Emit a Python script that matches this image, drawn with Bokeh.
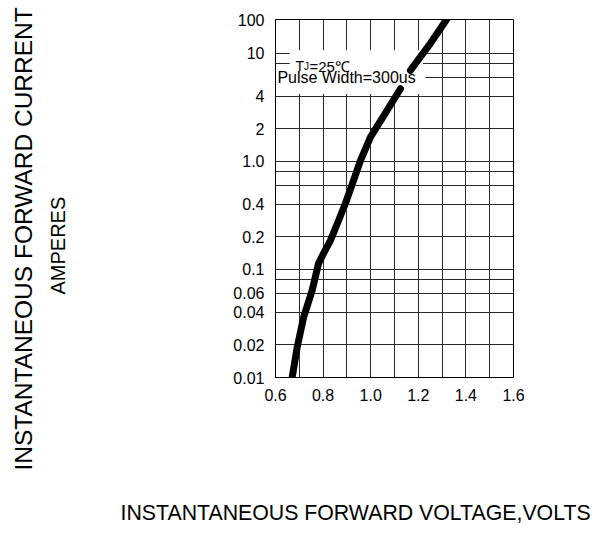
from bokeh.plotting import figure
from bokeh.models import FixedTicker, Range1d, Label, BoxAnnotation, Title
from bokeh.embed import file_html
from bokeh.resources import INLINE

# ---- data ----
volts_lo = [0.670, 0.691, 0.718, 0.754, 0.781, 0.802, 0.831, 0.865, 0.894, 0.928,
            0.957, 0.999, 1.069, 1.125]
amps_lo = [0.010, 0.019, 0.036, 0.064, 0.114, 0.141, 0.186, 0.284, 0.41, 0.667,
           1.02, 1.68, 2.97, 4.71]
volts_hi = [1.167, 1.251, 1.318]
amps_hi = [6.97, 12.4, 20.5]

x_tick_values = [0.6, 0.8, 1.0, 1.2, 1.4, 1.6]
x_tick_labels = ["0.6", "0.8", "1.0", "1.2", "1.4", "1.6"]
x_grid_values = [0.7, 0.8, 0.9, 1.0, 1.1, 1.2, 1.3, 1.4, 1.5]

y_tick_values = [0.01, 0.02, 0.04, 0.06, 0.1, 0.2, 0.4, 1.0, 2.0, 4.0, 10.0, 20.6]
y_tick_labels = ["0.01", "0.02", "0.04", "0.06", "0.1", "0.2", "0.4", "1.0", "2", "4", "10", "100"]
y_grid_values = [0.02, 0.04, 0.06, 0.08, 0.1, 0.2, 0.4, 0.6, 0.8, 1.0, 2.0, 4.0, 6.0, 8.0, 10.0]

FONT = "Liberation Sans"

p = figure(frame_width=238, frame_height=358,
           min_border_left=275, min_border_right=81, min_border_top=19, min_border_bottom=156,
           x_range=Range1d(0.6, 1.6), y_range=Range1d(0.01, 20.6), y_axis_type="log",
           output_backend="svg", toolbar_location=None)

p.outline_line_color = "black"
p.outline_line_width = 1
p.background_fill_color = "white"
p.border_fill_color = "white"

p.xgrid.ticker = FixedTicker(ticks=x_grid_values)
p.ygrid.ticker = FixedTicker(ticks=y_grid_values)
for g in (p.xgrid, p.ygrid):
    g.grid_line_color = "#2a2a2a"
    g.grid_line_width = 1
    g.grid_line_alpha = 1

p.xaxis.ticker = FixedTicker(ticks=x_tick_values)
p.xaxis.major_label_overrides = {v: t for v, t in zip(x_tick_values, x_tick_labels)}
p.yaxis.ticker = FixedTicker(ticks=y_tick_values)
p.yaxis.major_label_overrides = {v: t for v, t in zip(y_tick_values, y_tick_labels)}
for ax in (p.xaxis, p.yaxis):
    ax.major_tick_line_color = None
    ax.minor_tick_line_color = None
    ax.axis_line_color = "black"
    ax.major_label_text_font = FONT
    ax.major_label_text_font_size = "16px"
    ax.major_label_text_color = "black"
    ax.major_label_standoff = 5

# white boxes behind the legend text
p.add_layout(BoxAnnotation(left=0.66, right=1.22, bottom=7.0, top=10.7,
                           fill_color="white", fill_alpha=1, line_color=None, level="underlay"))
p.add_layout(BoxAnnotation(left=0.6, right=1.23, bottom=4.2, top=7.0,
                           fill_color="white", fill_alpha=1, line_color=None, level="underlay"))

# curve
p.line(volts_lo, amps_lo, line_color="black", line_width=7, line_cap="round", line_join="round")
p.line(volts_hi, amps_hi, line_color="black", line_width=7, line_cap="round", line_join="round")

# legend text
p.add_layout(Label(x=0.684, y=7.59, text="T", text_font=FONT, text_font_size="14px",
                   text_baseline="alphabetic", text_color="black"))
p.add_layout(Label(x=0.684, y=7.59, x_offset=8.5, text="J", text_font=FONT, text_font_size="10px",
                   text_baseline="alphabetic", text_color="black"))
p.add_layout(Label(x=0.684, y=7.59, x_offset=14, text="=25℃", text_font=FONT, text_font_size="15px",
                   text_baseline="alphabetic", text_color="black"))
p.add_layout(Label(x=0.608, y=6.0, text="Pulse Width=300us", text_font=FONT, text_font_size="16px",
                   text_baseline="middle", text_color="black"))


def spacer(size):
    return Title(text=" ", text_font=FONT, text_font_size="10px", standoff=size)


# axis titles (left: innermost first)
p.add_layout(spacer(148), "left")
p.add_layout(Title(text="AMPERES", text_font=FONT, text_font_size="20px", text_font_style="normal",
                   text_color="black", align="left", offset=83, standoff=2), "left")
p.add_layout(Title(text="INSTANTANEOUS FORWARD CURRENT", text_font=FONT, text_font_size="24.5px",
                   text_font_style="normal", text_color="black", align="left", offset=-93,
                   standoff=10, vertical_align="top"), "left")

p.add_layout(spacer(80), "below")
p.add_layout(Title(text="INSTANTANEOUS FORWARD VOLTAGE,VOLTS", text_font=FONT, text_font_size="21.3px",
                   text_font_style="normal", text_color="black", align="left", offset=-155,
                   standoff=4), "below")

open("out.html", "w").write(file_html(p, INLINE))
